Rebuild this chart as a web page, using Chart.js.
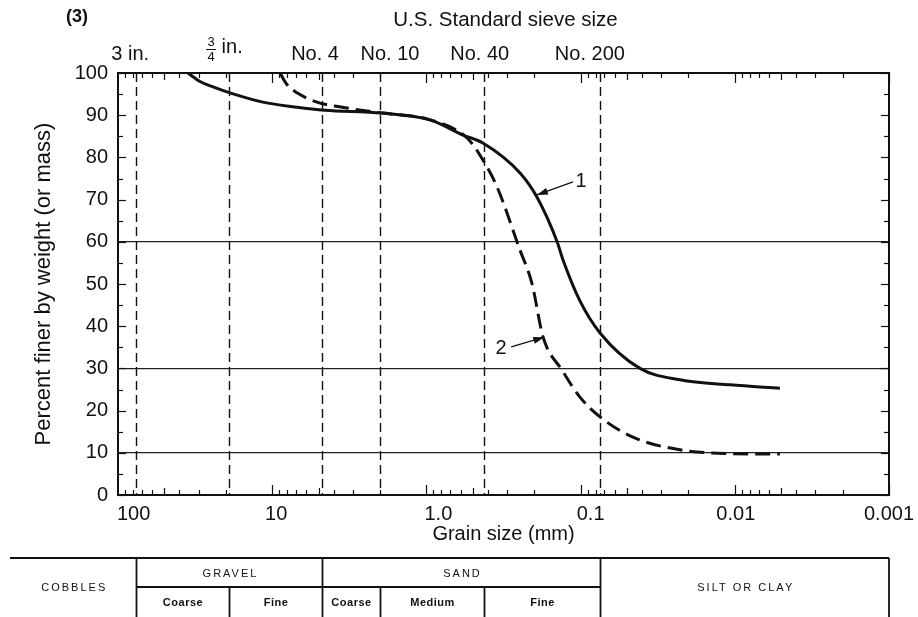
<!DOCTYPE html>
<html>
<head>
<meta charset="utf-8">
<script src="https://cdn.jsdelivr.net/npm/chart.js@4.4.0/dist/chart.umd.min.js"></script>
<style>
html,body{margin:0;padding:0;background:#fff;}
#wrap{width:918px;height:617px;position:relative;}
</style>
</head>
<body>
<div id="wrap"><canvas id="c" width="918" height="617"></canvas></div>
<script>
// ---------- data ----------
const grainTicks = [100, 10, 1, 0.1, 0.01, 0.001];
const grainTickLabels = ['100', '10', '1.0', '0.1', '0.01', '0.001'];
const percentTicks = [0, 10, 20, 30, 40, 50, 60, 70, 80, 90, 100];
const percentGridLines = [10, 30, 60];

const sieveSizes = [76.2, 19.05, 4.75, 2.0, 0.425, 0.075];
const sieveLabels = ['3 in.', '¾ in.', 'No. 4', 'No. 10', 'No. 40', 'No. 200'];

const curve1Size = [35.2, 29.4, 24.2, 18.8, 11.5, 6.9, 4.55, 1.94, 0.948, 0.579, 0.43, 0.247, 0.192, 0.142, 0.13, 0.101, 0.0748, 0.0412, 0.0227, 0.0107, 0.0051];
const curve1Percent = [100, 98, 96.7, 95.3, 93.1, 91.9, 91.2, 90.5, 88.9, 85.3, 83.4, 76.3, 70.6, 60, 55.7, 46, 38.4, 30, 27.3, 26.1, 25.3];

const curve2Size = [8.9, 8.0, 6.9, 5.12, 3.27, 1.94, 0.948, 0.545, 0.43, 0.348, 0.247, 0.207, 0.175, 0.132, 0.101, 0.0748, 0.0457, 0.0227, 0.0107, 0.0051];
const curve2Percent = [100, 97.2, 95.3, 93.1, 91.7, 90.5, 88.9, 84.6, 79.4, 73, 58, 50.2, 37.4, 29.6, 23.2, 18.5, 13.7, 10.7, 9.8, 9.7];

const curveNames = ['1', '2'];
const curveLabelSize = [0.0994, 0.328];
const curveLabelPercent = [74.2, 34.8];
const arrowTailSize = [0.112, 0.282];
const arrowTailPercent = [74.2, 35.1];
const arrowTipSize = [0.192, 0.172];
const arrowTipPercent = [71.1, 37.4];

const soilGroups = ['COBBLES', 'GRAVEL', 'SAND', 'SILT OR CLAY'];
const soilGroupBounds = [76.2, 4.75, 0.075];          // between groups
const soilSubgroups = ['Coarse', 'Fine', 'Coarse', 'Medium', 'Fine'];
const soilSubBounds = [76.2, 19.05, 4.75, 2.0, 0.425, 0.075];

// ---------- styles ----------
const FONT = "'Liberation Sans', Arial, Helvetica, sans-serif";
const INK = '#111';

const overlay = {
  id: 'overlay',
  afterDatasetsDraw(chart, args, opts) {
    const {ctx, chartArea: a, scales: {x, y}} = chart;
    ctx.save();
    ctx.strokeStyle = INK;
    ctx.fillStyle = INK;
    const line = (x1, y1, x2, y2) => { ctx.beginPath(); ctx.moveTo(x1, y1); ctx.lineTo(x2, y2); ctx.stroke(); };

    // sieve dashed verticals
    ctx.setLineDash([9, 5]);
    ctx.lineWidth = 1.4;
    sieveSizes.forEach(s => { const px = Math.round(x.getPixelForValue(s)) + 0.5; line(px, a.top, px, a.bottom); });
    ctx.setLineDash([]);

    // frame
    ctx.lineWidth = 2;
    ctx.strokeRect(a.left, a.top, a.right - a.left, a.bottom - a.top);

    // log ticks (inward) top & bottom
    ctx.lineWidth = 1.2;
    for (let k = -3; k <= 1; k++) {
      for (let n = 1; n <= 9; n++) {
        const v = n * Math.pow(10, k);
        if (v < 0.001 || v > 100) continue;
        const px = Math.round(x.getPixelForValue(v)) + 0.5;
        const len = n === 1 ? 10 : (n === 5 ? 7 : 5);
        line(px, a.bottom, px, a.bottom - len);
        line(px, a.top, px, a.top + len);
      }
    }
    // percent ticks left & right
    for (let p = 0; p <= 100; p += 5) {
      const py = Math.round(y.getPixelForValue(p)) + 0.5;
      const len = p % 10 === 0 ? 8 : 5;
      line(a.left, py, a.left + len, py);
      line(a.right, py, a.right - len, py);
    }

    // grain size tick labels
    ctx.font = `20px ${FONT}`;
    ctx.textBaseline = 'middle';
    grainTicks.forEach((v, i) => {
      const px = x.getPixelForValue(v);
      ctx.textAlign = i === 0 ? 'left' : 'center';
      ctx.fillText(grainTickLabels[i], px + opts.tickLabelOffsets[i], a.bottom + 19);
    });

    // sieve labels
    ctx.font = `20px ${FONT}`;
    ctx.textBaseline = 'alphabetic';
    sieveSizes.forEach((s, i) => {
      const px = x.getPixelForValue(s) + opts.labelOffsets[i];
      const lab = sieveLabels[i];
      if (lab[0] === '¾') {
        ctx.font = `13px ${FONT}`;
        ctx.textAlign = 'center';
        ctx.fillText('3', px - 14, 46);
        ctx.fillText('4', px - 14, 61);
        ctx.lineWidth = 1;
        line(px - 19, 49.5, px - 9, 49.5);
        ctx.font = `20px ${FONT}`;
        ctx.textAlign = 'left';
        ctx.fillText(lab.slice(1), px - 9, 53);
      } else {
        ctx.textAlign = 'center';
        ctx.fillText(lab, px, 60);
      }
    });

    // top title & panel number
    ctx.textAlign = 'center';
    ctx.font = `20.5px ${FONT}`;
    ctx.fillText('U.S. Standard sieve size', (a.left + a.right) / 2 + 2, 26);
    ctx.textAlign = 'left';
    ctx.font = `bold 18px ${FONT}`;
    ctx.fillText('(3)', 66, 22);

    // curve labels with arrows
    curveNames.forEach((nm, i) => {
      const lx = x.getPixelForValue(curveLabelSize[i]), ly = y.getPixelForValue(curveLabelPercent[i]);
      ctx.font = `20px ${FONT}`;
      ctx.textAlign = 'center';
      ctx.textBaseline = 'middle';
      ctx.fillText(nm, lx, ly);
      const tx = x.getPixelForValue(arrowTailSize[i]), ty = y.getPixelForValue(arrowTailPercent[i]);
      const hx = x.getPixelForValue(arrowTipSize[i]), hy = y.getPixelForValue(arrowTipPercent[i]);
      ctx.lineWidth = 1.3;
      line(tx, ty, hx, hy);
      const ang = Math.atan2(hy - ty, hx - tx);
      ctx.beginPath();
      ctx.moveTo(hx, hy);
      ctx.lineTo(hx - 11 * Math.cos(ang) + 3.5 * Math.sin(ang), hy - 11 * Math.sin(ang) - 3.5 * Math.cos(ang));
      ctx.lineTo(hx - 11 * Math.cos(ang) - 3.5 * Math.sin(ang), hy - 11 * Math.sin(ang) + 3.5 * Math.cos(ang));
      ctx.closePath();
      ctx.fill();
    });

    // classification table
    const T = opts.table;
    const xr = a.right;
    ctx.lineWidth = 1.8;
    line(T.left, T.top, xr, T.top);
    const gb = soilGroupBounds.map(s => Math.round(x.getPixelForValue(s)) + 0.5);
    const sb = soilSubBounds.map(s => Math.round(x.getPixelForValue(s)) + 0.5);
    line(sb[0], T.mid, sb[sb.length - 1], T.mid);
    gb.forEach(px => line(px, T.top, px, T.bottom));
    line(xr, T.top, xr, T.bottom);
    sb.forEach(px => { if (!gb.includes(px)) line(px, T.mid, px, T.bottom); });

    ctx.textAlign = 'center';
    ctx.textBaseline = 'middle';
    ctx.font = `11px ${FONT}`;
    ctx.letterSpacing = '2px';
    const gEdges = [T.left, ...gb, xr];
    soilGroups.forEach((g, i) => {
      const cx = (gEdges[i] + gEdges[i + 1]) / 2 + 1;
      const single = (i === 0 || i === soilGroups.length - 1);
      ctx.fillText(g, cx, single ? (T.top + T.bottom) / 2 - 2 : (T.top + T.mid) / 2 + 1);
    });
    ctx.letterSpacing = '0.5px';
    ctx.font = `bold 11px ${FONT}`;
    soilSubgroups.forEach((g, i) => {
      const cx = (sb[i] + sb[i + 1]) / 2;
      ctx.fillText(g, cx, T.mid + 16);
    });
    ctx.restore();
  }
};

const ctx = document.getElementById('c').getContext('2d');
new Chart(ctx, {
  type: 'line',
  data: {
    datasets: [
      {
        label: curveNames[0],
        data: curve1Size.map((s, i) => ({x: s, y: curve1Percent[i]})),
        borderColor: INK, borderWidth: 3, pointRadius: 0,
        cubicInterpolationMode: 'monotone', fill: false
      },
      {
        label: curveNames[1],
        data: curve2Size.map((s, i) => ({x: s, y: curve2Percent[i]})),
        borderColor: INK, borderWidth: 3, pointRadius: 0, borderDash: [15, 7],
        cubicInterpolationMode: 'monotone', fill: false
      }
    ]
  },
  options: {
    responsive: false,
    animation: false,
    devicePixelRatio: 1,
    layout: {padding: {top: 73, right: 29, bottom: 0, left: 0}},
    plugins: {
      legend: {display: false},
      tooltip: {enabled: false},
      overlay: {
        labelOffsets: [-6, -4, -7, 10, -4, -10],
        tickLabelOffsets: [-1, 4, 12, 10, 1, 0],
        table: {left: 10, top: 558, mid: 587, bottom: 622}
      }
    },
    scales: {
      x: {
        type: 'logarithmic', reverse: true, min: 0.001, max: 100,
        afterBuildTicks: s => { s.ticks = grainTicks.map(v => ({value: v})); },
        afterFit: s => { s.height = 122; },
        grid: {display: false, drawTicks: false},
        border: {display: false},
        ticks: {display: false},
        title: {display: true, text: 'Grain size (mm)', color: INK, font: {family: FONT, size: 20}, padding: {top: 0, bottom: 71}}
      },
      y: {
        min: 0, max: 100,
        afterBuildTicks: s => { s.ticks = percentTicks.map(v => ({value: v})); },
        afterFit: s => { s.width = 118; },
        grid: {
          drawTicks: false,
          color: c => percentGridLines.includes(c.tick.value) ? '#222' : 'rgba(0,0,0,0)',
          lineWidth: 1.2
        },
        border: {display: false},
        ticks: {padding: 10, color: INK, font: {family: FONT, size: 20}},
        title: {display: true, text: 'Percent finer by weight (or mass)', color: INK, font: {family: FONT, size: 22}, padding: {top: 31, bottom: 0}}
      }
    }
  },
  plugins: [overlay]
});
</script>
</body>
</html>
